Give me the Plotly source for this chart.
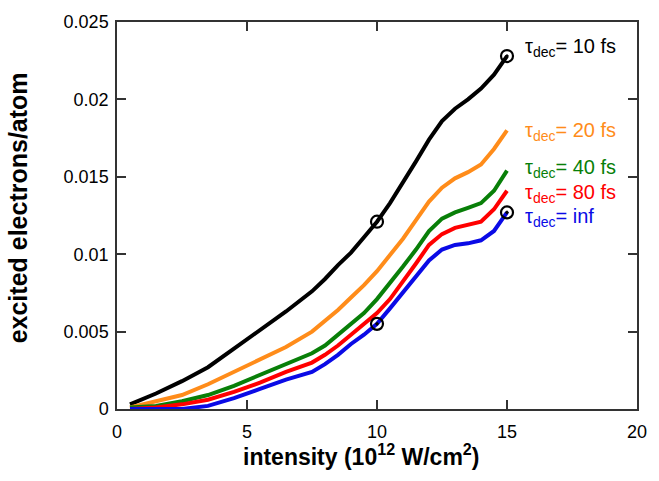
import plotly.graph_objects as go

intensity = [0.5, 1.5, 2.5, 3.5, 4.5, 5.5, 6.5, 7.5, 8, 8.5, 9, 9.5, 10, 10.5,
             11, 11.5, 12, 12.5, 13, 13.5, 14, 14.5, 15]

tau_10fs = [0.0003, 0.0010, 0.0018, 0.0027, 0.0039, 0.0051, 0.0063, 0.0076, 0.0084,
            0.0093, 0.0101, 0.0111, 0.0121, 0.0133, 0.0146, 0.0160, 0.0174, 0.0186,
            0.0194, 0.0200, 0.0207, 0.0216, 0.0228]
tau_20fs = [0.0001, 0.0005, 0.0009, 0.0016, 0.0024, 0.0032, 0.0040, 0.0050, 0.0057,
            0.0064, 0.0072, 0.0080, 0.0089, 0.0099, 0.0110, 0.0122, 0.0134, 0.0143,
            0.0149, 0.0153, 0.0158, 0.0168, 0.0180]
tau_40fs = [0.0001, 0.0002, 0.0005, 0.0009, 0.0015, 0.0022, 0.0029, 0.0036, 0.0041,
            0.0048, 0.0055, 0.0062, 0.0071, 0.0081, 0.0092, 0.0103, 0.0115, 0.0123,
            0.0127, 0.0130, 0.0133, 0.0141, 0.0154]
tau_80fs = [0.0000, 0.0001, 0.0003, 0.0006, 0.0011, 0.0017, 0.0024, 0.0030, 0.0035,
            0.0041, 0.0048, 0.0055, 0.0062, 0.0071, 0.0082, 0.0094, 0.0106, 0.0113,
            0.0117, 0.0119, 0.0121, 0.0129, 0.0141]
tau_inf = [0.0000, 0.0000, 0.0000, 0.0002, 0.0007, 0.0013, 0.0019, 0.0024, 0.0029,
           0.0035, 0.0042, 0.0048, 0.0055, 0.0065, 0.0075, 0.0086, 0.0096, 0.0103,
           0.0106, 0.0107, 0.0109, 0.0115, 0.0127]

marker_x = [10, 15, 10, 15]
marker_y = [0.0121, 0.0228, 0.0055, 0.0127]

labels = ["= 10 fs", "= 20 fs", "= 40 fs", "= 80 fs", "= inf"]
label_y = [0.02347, 0.01807, 0.01565, 0.01406, 0.01253]
colors = ["#000000", "#FF8C1A", "#087F08", "#FF0000", "#0A0AE6"]
series = [tau_10fs, tau_20fs, tau_40fs, tau_80fs, tau_inf]

x_ticks = [0, 5, 10, 15, 20]
y_ticks = [0, 0.005, 0.01, 0.015, 0.02, 0.025]
y_ticktext = ["0", "0.005", "0.01", "0.015", "0.02", "0.025"]

FONT = "Arial, Liberation Sans, sans-serif"

fig = go.Figure()
for ys, c in zip(series, colors):
    fig.add_trace(go.Scatter(x=intensity, y=ys, mode="lines",
                             line=dict(color=c, width=4), showlegend=False))
fig.add_trace(go.Scatter(x=marker_x, y=marker_y, mode="markers", showlegend=False,
                         marker=dict(symbol="circle-open-dot", size=12, color="black",
                                     line=dict(width=2.2, color="black"))))

for lab, ly, c in zip(labels, label_y, colors):
    fig.add_annotation(x=15.6, y=ly, xref="x", yref="y", xanchor="left", yanchor="middle",
                       text="τ<sub>dec</sub>" + lab, showarrow=False, yshift=-2,
                       font=dict(family=FONT, size=20, color=c))

# axis titles as annotations for exact placement
fig.add_annotation(x=0.47, y=-0.12, xref="paper", yref="paper", xanchor="center",
                   yanchor="middle", showarrow=False,
                   text="<b>intensity (10<sup>12</sup> W/cm<sup>2</sup>)</b>",
                   font=dict(family=FONT, size=23, color="black"))
fig.add_annotation(x=-0.19, y=0.519, xref="paper", yref="paper", xanchor="center",
                   yanchor="middle", showarrow=False, textangle=-90,
                   text="<b>excited electrons/atom</b>",
                   font=dict(family=FONT, size=25, color="black"))

axis_common = dict(showgrid=False, zeroline=False, showline=True, linecolor="#333333",
                   linewidth=1.5, mirror="ticks", ticks="inside", ticklen=9,
                   tickwidth=1.5, tickcolor="#333333",
                   tickfont=dict(family=FONT, size=18, color="black"))

fig.update_xaxes(range=[0, 20], tickvals=x_ticks, ticklabelstandoff=6, **axis_common)
fig.update_yaxes(range=[0, 0.025], tickvals=y_ticks, ticktext=y_ticktext,
                 ticklabelstandoff=3, **axis_common)

fig.update_layout(width=659, height=481, margin=dict(l=117, r=12, t=16, b=72),
                  paper_bgcolor="white", plot_bgcolor="white")

fig.write_html("out.html")
